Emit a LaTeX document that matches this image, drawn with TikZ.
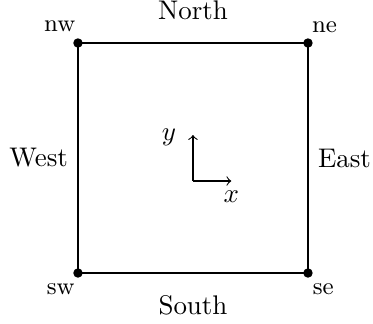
\documentclass[tikz,border=0pt]{standalone}
\usetikzlibrary{positioning}
\begin{document}
\begin{tikzpicture}[line width=0.8pt,cornerlabel/.style={font=\small,inner sep=0pt}]
  \useasboundingbox (-1.017,-0.665) rectangle (3.848,3.561);
  % square and corners
  \coordinate (sw) at (0,0); \coordinate (se) at (3,0); \coordinate (ne) at (3,3); \coordinate (nw) at (0,3);
  \draw (sw) -- (se) -- (ne) -- (nw) -- cycle;
  \foreach \c in {sw,se,ne,nw} \fill (\c) circle (1.75pt);
  \node[cornerlabel,above left=0.13cm and 0.02cm of nw] (lnw) {nw};
  \node[cornerlabel,above right=0.12cm and 0.04cm of ne] (lne) {ne};
  \node[cornerlabel,below left=0.12cm and 0.03cm of sw] (lsw) {sw};
  \node[cornerlabel,below right=0.13cm and 0.05cm of se] (lse) {se};
  % sides
  \coordinate (n) at (1.5,3); \coordinate (s) at (1.5,0); \coordinate (w) at (0,1.5); \coordinate (e) at (3,1.5);
  \node[above=0.17cm of n] (north) {North};
  \node[below=0.16cm of s] (south) {South};
  \node[left=0pt of w] (west) {West};
  \node[right=0pt of e] (east) {East};
  % axes
  \coordinate (o) at (1.5,1.2); \coordinate (xend) at (2,1.2); \coordinate (yend) at (1.5,1.8);
  \draw[->,line width=0.4pt] (o) -- (xend); \draw[->,line width=0.4pt] (o) -- (yend);
  \node[below=0pt of xend] (xl) {$x$};
  \node[left=0.09cm of yend,yshift=-0.03cm] (yl) {$y$};
\end{tikzpicture}
\end{document}
